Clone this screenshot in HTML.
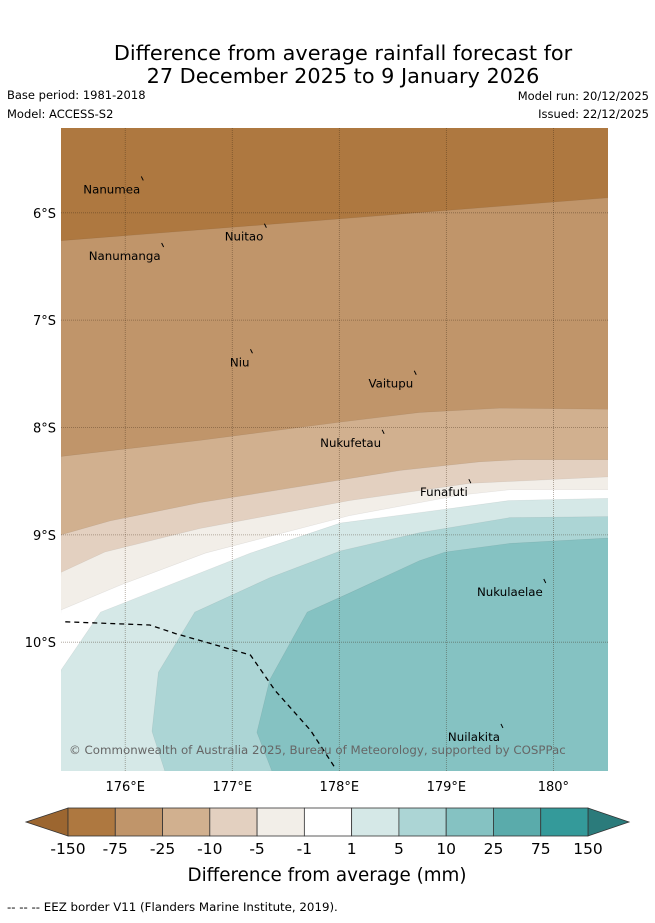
<!DOCTYPE html>
<html><head><meta charset="utf-8">
<style>
body{margin:0;background:#fff;width:655px;height:919px;overflow:hidden;font-family:"DejaVu Sans","Liberation Sans",sans-serif;}
svg text{font-family:"DejaVu Sans","Liberation Sans",sans-serif;}
</style></head>
<body>
<svg id="chart" width="655" height="919" viewBox="0 0 655 919" xmlns="http://www.w3.org/2000/svg">
<text x="343" y="60" font-size="20.8" text-anchor="middle">Difference from average rainfall forecast for</text>
<text x="343" y="83" font-size="20.8" text-anchor="middle">27 December 2025 to 9 January 2026</text>
<text x="7" y="99" font-size="11.5">Base period: 1981-2018</text>
<text x="7" y="118" font-size="11.5">Model: ACCESS-S2</text>
<text x="649" y="100" font-size="11.5" text-anchor="end">Model run: 20/12/2025</text>
<text x="649" y="118" font-size="11.5" text-anchor="end">Issued: 22/12/2025</text>
<defs><clipPath id="mapclip"><rect x="61" y="128" width="547" height="643"/></clipPath></defs>
<g id="map" clip-path="url(#mapclip)"></g>
<g id="axes"></g>
<g id="cbar"></g>
<text x="327" y="881" font-size="18.3" text-anchor="middle">Difference from average (mm)</text>
<text x="7" y="911" font-size="11.8">--  --  -- EEZ border V11 (Flanders Marine Institute, 2019).</text>
</svg>
<script>
// Axis extents
const lonMin = 175.40, lonMax = 180.51, latMin = 5.21, latMax = 11.20;
const lonTicks = [176, 177, 178, 179, 180];
const lonTickLabels = ["176°E", "177°E", "178°E", "179°E", "180°"];
const latTicks = [6, 7, 8, 9, 10];
const latTickLabels = ["6°S", "7°S", "8°S", "9°S", "10°S"];
// Contour band boundaries [lon, lat°S], each band below its boundary takes the next colour
const bandColors = ["#ae7840", "#c0956a", "#d1b08f", "#e3d0c0", "#f2eee8", "#ffffff", "#d5e8e7", "#acd5d5", "#85c2c2"];
const boundary1 = [[175.40,6.26],[180.51,5.86]];
const boundary2 = [[175.40,8.27],[176.70,8.12],[178.01,7.95],[178.75,7.86],[179.50,7.82],[180.51,7.83]];
const boundary3 = [[175.40,9.00],[175.86,8.87],[176.70,8.70],[177.63,8.55],[178.57,8.40],[179.31,8.32],[179.68,8.30],[180.51,8.30]];
const boundary4 = [[175.40,9.35],[175.81,9.16],[176.70,8.94],[178.10,8.68],[179.22,8.52],[180.51,8.46]];
const boundary5 = [[175.40,9.70],[175.95,9.47],[176.75,9.17],[178.10,8.82],[179.13,8.63],[179.59,8.58],[180.51,8.58]];
const boundary6 = [[175.40,10.26],[175.77,9.72],[177.17,9.17],[178.01,8.89],[178.85,8.78],[179.59,8.68],[180.51,8.66]];
const boundary7 = [[176.37,11.20],[176.25,10.83],[176.31,10.28],[176.65,9.72],[177.35,9.40],[178.01,9.15],[178.75,8.98],[179.59,8.84],[180.51,8.83]];
const boundary8 = [[177.37,11.20],[177.23,10.84],[177.35,10.35],[177.70,9.72],[178.10,9.54],[178.75,9.24],[178.99,9.16],[179.59,9.08],[180.51,9.03]];
const eezBorder = [[175.44,9.81],[176.23,9.84],[176.47,9.92],[176.79,10.01],[177.17,10.12],[177.40,10.45],[177.73,10.82],[177.96,11.17]];
const islandNames = ["Nanumea","Nuitao","Nanumanga","Niu","Vaitupu","Nukufetau","Funafuti","Nukulaelae","Nuilakita"];
const islandLon = [176.15,177.30,176.34,177.17,178.70,178.40,179.21,179.91,179.51];
const islandLat = [5.68,6.12,6.30,7.29,7.49,8.04,8.50,9.43,10.78];
const cbLabels = ["-150","-75","-25","-10","-5","-1","1","5","10","25","75","150"];
const cbColors = ["#ae7840","#c0956a","#d1b08f","#e3d0c0","#f2eee8","#ffffff","#d5e8e7","#acd5d5","#85c2c2","#5aabab","#349a9a"];

const X0=61, X1=608, Y0=128, Y1=771;
const xs = lon => X0 + (lon - lonMin) / (lonMax - lonMin) * (X1 - X0);
const ys = lat => Y0 + (lat - latMin) / (latMax - latMin) * (Y1 - Y0);
const NS = "http://www.w3.org/2000/svg";
function mk(tag, attrs, parent){const e=document.createElementNS(NS,tag);for(const k in attrs)e.setAttribute(k,attrs[k]);parent.appendChild(e);return e;}
const map = document.getElementById('map');
const axes = document.getElementById('axes');
const cbar = document.getElementById('cbar');

let bg = mk('rect',{x:X0,y:Y0,width:X1-X0,height:Y1-Y0,fill:bandColors[0]},map);


const boundaries=[boundary1,boundary2,boundary3,boundary4,boundary5,boundary6,boundary7,boundary8];
boundaries.forEach((b,i)=>{
  const pts=b.map(p=>xs(p[0])+','+ys(p[1]));
  pts.push(xs(lonMax+0.1)+','+ys(b[b.length-1][1]));
  pts.push(xs(lonMax+0.1)+','+ys(latMax+0.1));
  pts.push(xs(lonMin-0.1)+','+ys(latMax+0.1));
  const p=mk('polygon',{points:pts.join(' '),fill:bandColors[i+1],stroke:'rgba(0,0,0,0.08)','stroke-width':0.6},map);
  
  
});
// gridlines
lonTicks.forEach((t,i)=>{
  const l=mk('line',{x1:xs(t),x2:xs(t),y1:Y0,y2:Y1,stroke:'rgba(60,40,20,0.45)','stroke-width':0.8,'stroke-dasharray':'1,1'},map);
  
  
  const tx=mk('text',{x:xs(t),y:791,'font-size':13,'text-anchor':'middle'},axes);
  tx.textContent=lonTickLabels[i];
  
  
});
latTicks.forEach((t,i)=>{
  const l=mk('line',{x1:X0,x2:X1,y1:ys(t),y2:ys(t),stroke:'rgba(60,40,20,0.45)','stroke-width':0.8,'stroke-dasharray':'1,1'},map);
  
  
  const tx=mk('text',{x:56,y:ys(t)+5,'font-size':13,'text-anchor':'end'},axes);
  tx.textContent=latTickLabels[i];
  
  
});
// EEZ
const eez=mk('polyline',{points:eezBorder.map(p=>xs(p[0])+','+ys(p[1])).join(' '),fill:'none',stroke:'#000','stroke-width':1.3,'stroke-dasharray':'5,4'},map);


// islands
islandNames.forEach((n,i)=>{
  const x=xs(islandLon[i]), y=ys(islandLat[i]);
  const m=mk('line',{x1:x,y1:y-2,x2:x+2,y2:y+2,stroke:'#000','stroke-width':1},map);
  
  
  const t=mk('text',{x:x-1,y:y+15,'font-size':11.8,'text-anchor':'end'},map);
  t.textContent=n;
  
  
});
const cp=mk('text',{x:69,y:754,'font-size':11.8,fill:'#666'},map);
cp.textContent='© Commonwealth of Australia 2025, Bureau of Meteorology, supported by COSPPac';


// colorbar
const cbX0=68, cbX1=588, cbY=808, cbH=28, w=(cbX1-cbX0)/cbColors.length;
const lt=mk('polygon',{points:`${cbX0},${cbY} ${cbX0},${cbY+cbH} 26,${cbY+cbH/2}`,fill:'#9c6630',stroke:'#333','stroke-width':0.8},cbar);


const rt=mk('polygon',{points:`${cbX1},${cbY} ${cbX1},${cbY+cbH} 629,${cbY+cbH/2}`,fill:'#2b7b7b',stroke:'#333','stroke-width':0.8},cbar);


cbColors.forEach((c,i)=>{
  const r=mk('rect',{x:cbX0+i*w,y:cbY,width:w,height:cbH,fill:c,stroke:'#333','stroke-width':0.8},cbar);
  
  
});
cbLabels.forEach((s,i)=>{
  const t=mk('text',{x:cbX0+i*w,y:854,'font-size':15.5,'text-anchor':'middle'},cbar);
  t.textContent=s;
  
  
});
</script>
</body></html>
